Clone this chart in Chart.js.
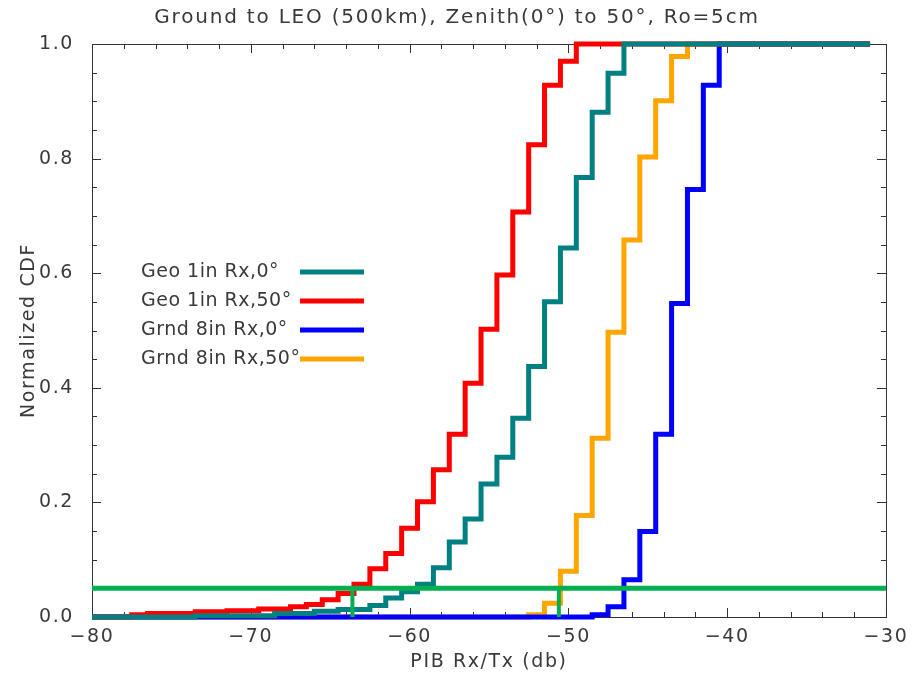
<!DOCTYPE html>
<html>
<head>
<meta charset="utf-8">
<script src="https://cdn.jsdelivr.net/npm/chart.js@4.4.1/dist/chart.umd.min.js"></script>
<style>
  html, body { margin: 0; padding: 0; background: #fff; }
</style>
</head>
<body>
<canvas id="cdf-chart" width="915" height="676"></canvas>
<script>
// CDF of PIB Rx/Tx, ground to LEO, step curves

const chartTitle = 'Ground to LEO (500km), Zenith(0°) to 50°, Ro=5cm';
const xTitle = 'PIB Rx/Tx (db)';
const yTitle = 'Normalized CDF';

const seriesLabels = ['Geo 1in Rx,0°', 'Geo 1in Rx,50°', 'Grnd 8in Rx,0°', 'Grnd 8in Rx,50°'];

// bin edges (db) and the CDF value that starts at each edge
const tealX = [-80, -73.5, -68.5, -66, -64.5, -62.5, -61.5, -60.5, -59.5, -58.5, -57.5, -56.5, -55.5, -54.5, -53.5, -52.5, -51.5, -50.5, -49.5, -48.5, -47.5, -46.5, -31];
const tealY = [0, 0.002, 0.006, 0.010, 0.013, 0.020, 0.033, 0.044, 0.057, 0.086, 0.131, 0.171, 0.232, 0.279, 0.347, 0.437, 0.550, 0.644, 0.767, 0.881, 0.949, 1.0, 1.0];

const redX = [-80, -77.5, -76.5, -73.5, -71.5, -69.5, -67.5, -66.5, -65.5, -64.5, -63.5, -62.5, -61.5, -60.5, -59.5, -58.5, -57.5, -56.5, -55.5, -54.5, -53.5, -52.5, -51.5, -50.5, -49.5, -31];
const redY = [0, 0.004, 0.006, 0.009, 0.011, 0.014, 0.018, 0.022, 0.030, 0.041, 0.057, 0.084, 0.111, 0.155, 0.201, 0.257, 0.319, 0.408, 0.502, 0.597, 0.707, 0.824, 0.928, 0.970, 1.0, 1.0];

const blueX = [-80, -48.5, -47.5, -46.5, -45.5, -44.5, -43.5, -42.5, -41.5, -40.5, -31];
const blueY = [0, 0.004, 0.018, 0.065, 0.149, 0.319, 0.547, 0.746, 0.928, 1.0, 1.0];

const orangeX = [-80, -52.5, -51.5, -50.5, -49.5, -48.5, -47.5, -46.5, -45.5, -44.5, -43.5, -42.5, -31];
const orangeY = [0, 0.004, 0.024, 0.080, 0.177, 0.312, 0.497, 0.658, 0.803, 0.901, 0.978, 1.0, 1.0];

// 5% level and where the 50 deg curves cross it
const markLevel = 0.05;
const markRange = [-80, -30];
const markCrossX = [-63.6, -50.6];

const xTicks = [-80, -70, -60, -50, -40, -30];
const yTicks = [0, 0.2, 0.4, 0.6, 0.8, 1.0];

const colors = ['#008080', '#ff0000', '#0000ff', '#ffa500'];
const markColor = '#00b050';
const textColor = '#3a3a3a';
const fontFamily = '"DejaVu Sans", sans-serif';

function toPoints(xs, ys) {
  return xs.map((x, i) => ({ x: x, y: ys[i] }));
}

const curves = [[tealX, tealY], [redX, redY], [blueX, blueY], [orangeX, orangeY]];

const datasets = [];

// green marker lines go first so they sit on top
datasets.push({
  label: 'level',
  data: toPoints(markRange, [markLevel, markLevel]),
  borderColor: markColor,
  borderWidth: 5,
  pointRadius: 0
});
markCrossX.forEach((x) => {
  datasets.push({
    label: 'cross',
    data: toPoints([x, x], [0, markLevel]),
    borderColor: markColor,
    borderWidth: 4,
    pointRadius: 0
  });
});

curves.forEach((c, i) => {
  datasets.push({
    label: seriesLabels[i],
    data: toPoints(c[0], c[1]),
    borderColor: colors[i],
    borderWidth: 5,
    stepped: 'before',
    pointRadius: 0,
    borderJoinStyle: 'miter',
    borderCapStyle: 'butt'
  });
});

// wider letter spacing, closer to the old vector font
const spacing = {
  id: 'spacing',
  beforeDraw(chart) {
    chart.ctx.letterSpacing = '1.6px';
  }
};

// box with inward ticks on all four sides
const frameTicks = {
  id: 'frameTicks',
  beforeDatasetsDraw(chart) {
    const { ctx, chartArea: a, scales } = chart;
    const xs = scales.x, ys = scales.y;
    ctx.save();
    ctx.strokeStyle = '#333';
    ctx.lineWidth = 1;
    ctx.strokeRect(a.left + 0.5, a.top + 0.5, a.right - a.left, a.bottom - a.top);
    ctx.beginPath();
    for (let v = -80; v <= -30; v += 2) {
      const px = Math.round(xs.getPixelForValue(v)) + 0.5;
      const len = v % 10 === 0 ? 9 : 5;
      ctx.moveTo(px, a.bottom);
      ctx.lineTo(px, a.bottom - len);
      ctx.moveTo(px, a.top);
      ctx.lineTo(px, a.top + len);
    }
    for (let k = 0; k <= 20; k++) {
      const py = Math.round(ys.getPixelForValue(k * 0.05)) + 0.5;
      const len = k % 4 === 0 ? 9 : 5;
      ctx.moveTo(a.left, py);
      ctx.lineTo(a.left + len, py);
      ctx.moveTo(a.right, py);
      ctx.lineTo(a.right - len, py);
    }
    ctx.stroke();
    ctx.restore();
  }
};

// title and the in-plot legend (text first, line after it)
const labelsPlugin = {
  id: 'labelsPlugin',
  afterDraw(chart) {
    const { ctx } = chart;
    ctx.save();
    ctx.fillStyle = textColor;
    ctx.font = '20px ' + fontFamily;
    ctx.letterSpacing = '1.8px';
    ctx.textAlign = 'center';
    ctx.textBaseline = 'middle';
    ctx.fillText(chartTitle, 457, 18);

    ctx.font = '19px ' + fontFamily;
    ctx.letterSpacing = '0.5px';
    ctx.textAlign = 'left';
    seriesLabels.forEach((lab, i) => {
      const yy = 272 + i * 29;
      ctx.fillStyle = textColor;
      ctx.fillText(lab, 141, yy);
      ctx.strokeStyle = colors[i];
      ctx.lineWidth = 5;
      ctx.beginPath();
      ctx.moveTo(300, yy);
      ctx.lineTo(364, yy);
      ctx.stroke();
    });
    ctx.restore();
  }
};

const ctx = document.getElementById('cdf-chart').getContext('2d');

new Chart(ctx, {
  type: 'line',
  data: { datasets: datasets },
  options: {
    responsive: false,
    animation: false,
    devicePixelRatio: 1,
    clip: 8,
    layout: { padding: { top: 44, right: 23, left: 0, bottom: 0 } },
    plugins: {
      legend: { display: false },
      tooltip: { enabled: false },
      title: { display: false }
    },
    scales: {
      x: {
        type: 'linear',
        min: -80,
        max: -30,
        afterFit: (scale) => { scale.height = 59; },
        afterBuildTicks: (scale) => { scale.ticks = xTicks.map((v) => ({ value: v })); },
        grid: { display: false, drawTicks: false },
        border: { display: false },
        ticks: {
          color: textColor,
          padding: 9,
          maxRotation: 0,
          font: { family: fontFamily, size: 19 },
          callback: (v) => String(v).replace('-', '\u2212')
        },
        title: {
          display: true,
          text: xTitle,
          color: textColor,
          font: { family: fontFamily, size: 19 },
          padding: { top: 0, bottom: 3 }
        }
      },
      y: {
        type: 'linear',
        min: 0,
        max: 1,
        afterFit: (scale) => { scale.width = 92; },
        afterBuildTicks: (scale) => { scale.ticks = yTicks.map((v) => ({ value: v })); },
        grid: { display: false, drawTicks: false },
        border: { display: false },
        ticks: {
          color: textColor,
          padding: 18,
          font: { family: fontFamily, size: 19 },
          callback: (v) => Number(v).toFixed(1)
        },
        title: {
          display: true,
          text: yTitle,
          color: textColor,
          font: { family: fontFamily, size: 19 },
          padding: { top: 18, bottom: 0 }
        }
      }
    }
  },
  plugins: [spacing, frameTicks, labelsPlugin]
});
</script>
</body>
</html>
